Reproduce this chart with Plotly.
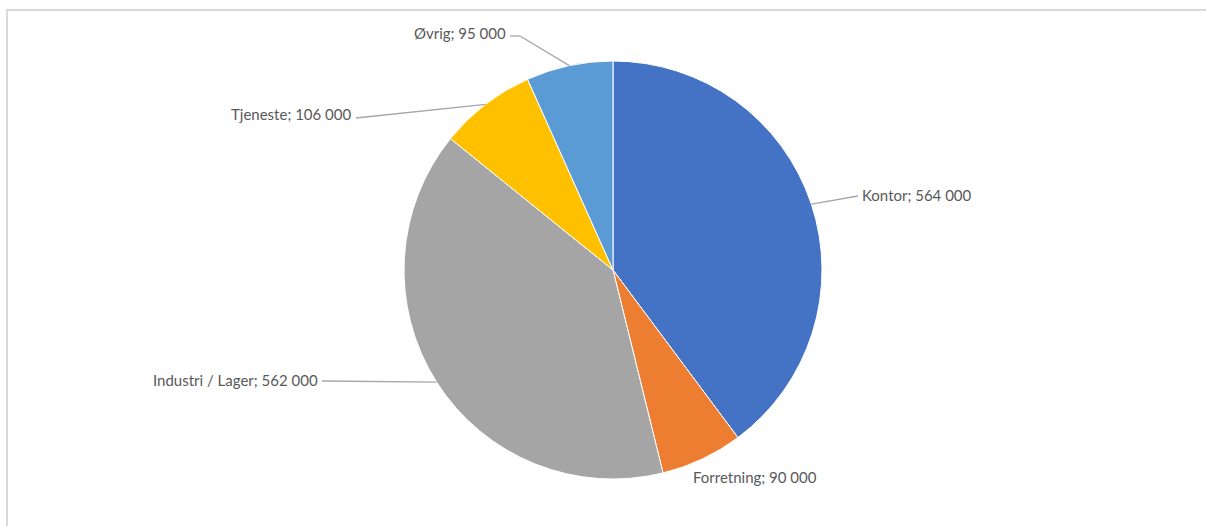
import math
import plotly.graph_objects as go

categories = ["Kontor", "Forretning", "Industri / Lager", "Tjeneste", "Øvrig"]
values = [564000, 90000, 562000, 106000, 95000]
colors = ["#4472C4", "#ED7D31", "#A5A5A5", "#FFC000", "#5B9BD5"]

W, H = 1206, 526
CX, CY, R = 613, 270, 209  # pie centre and radius in pixels (layout)

# label anchor (pixel), anchor side, leader elbow (pixel or None)
label_layout = [
    dict(pos=(860, 195), xanchor="left", elbow=[(858, 196)]),
    dict(pos=(755, 477), xanchor="center", elbow=None),
    dict(pos=(320, 380), xanchor="right", elbow=[(322, 381)]),
    dict(pos=(353, 114), xanchor="right", elbow=[(356, 118)]),
    dict(pos=(508, 33), xanchor="right", elbow=[(520, 36), (510, 36)]),
]


def fmt(v):
    return f"{v:,}".replace(",", " ")


def px(x, y):
    return x / W, 1 - y / H


fig = go.Figure(go.Pie(
    labels=categories,
    values=values,
    sort=False,
    direction="clockwise",
    rotation=0,
    marker=dict(colors=colors, line=dict(color="white", width=1)),
    textinfo="none",
    hoverinfo="label+value",
    showlegend=False,
    domain=dict(x=[(CX - R) / W, (CX + R) / W], y=[(H - CY - R) / H, (H - CY + R) / H]),
))

total = sum(values)
cum = 0
shapes = []
annotations = []
for cat, v, lay in zip(categories, values, label_layout):
    mid = (cum + v / 2) / total * 2 * math.pi
    cum += v
    ex = CX + R * math.sin(mid)
    ey = CY - R * math.cos(mid)
    if lay["elbow"]:
        pts = [(ex, ey)] + lay["elbow"]
        for (x0, y0), (x1, y1) in zip(pts[:-1], pts[1:]):
            a0 = px(x0, y0)
            a1 = px(x1, y1)
            shapes.append(dict(type="line", xref="paper", yref="paper",
                               x0=a0[0], y0=a0[1], x1=a1[0], y1=a1[1],
                               line=dict(color="#A6A6A6", width=1.3)))
    lx, ly = px(*lay["pos"])
    annotations.append(dict(x=lx, y=ly, xref="paper", yref="paper",
                            text=f"{cat}; {fmt(v)}", showarrow=False,
                            xanchor=lay["xanchor"], yanchor="middle",
                            font=dict(family="Lato, Open Sans, sans-serif", size=15, color="#595959")))

# chart frame
f0 = px(7, 10)
f1 = px(1212, 540)
shapes.append(dict(type="rect", xref="paper", yref="paper",
                   x0=f0[0], y0=f0[1], x1=f1[0], y1=f1[1],
                   line=dict(color="#D9D9D9", width=2), layer="below"))

fig.update_layout(
    width=W, height=H,
    margin=dict(l=0, r=0, t=0, b=0),
    paper_bgcolor="white",
    plot_bgcolor="white",
    shapes=shapes,
    annotations=annotations,
)

fig.write_html("out.html", config={"displayModeBar": False},
               post_script="document.body.style.margin='0';")
